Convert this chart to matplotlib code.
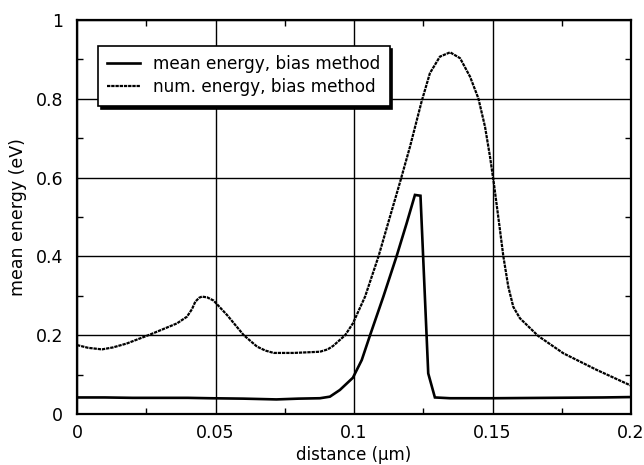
import matplotlib
matplotlib.use("Agg")
import matplotlib.pyplot as plt
from matplotlib.ticker import MultipleLocator, FuncFormatter

# ---- data ----
mean_x = [0.0, 0.01, 0.02, 0.03, 0.04, 0.048, 0.06, 0.072, 0.08, 0.0877, 0.0913,
          0.0949, 0.0996, 0.1028, 0.1058, 0.1106, 0.1154, 0.119, 0.122, 0.124,
          0.1268, 0.1292, 0.1347, 0.15, 0.17, 0.19, 0.2]
mean_y = [0.042, 0.042, 0.041, 0.041, 0.041, 0.040, 0.039, 0.037, 0.039, 0.040, 0.044,
          0.061, 0.092, 0.137, 0.200, 0.298, 0.401, 0.484, 0.556, 0.554,
          0.103, 0.042, 0.040, 0.040, 0.041, 0.042, 0.043]

num_x = [0.0, 0.004, 0.009, 0.013, 0.018, 0.0265, 0.0361, 0.0397, 0.0415, 0.0427,
         0.0441, 0.0451, 0.047, 0.0493, 0.0542, 0.0602, 0.065, 0.068, 0.071, 0.0782,
         0.0877, 0.0905, 0.0925, 0.0968, 0.0996, 0.104, 0.1088, 0.113, 0.1166,
         0.1202, 0.1244, 0.1274, 0.131, 0.1347, 0.1383, 0.1419, 0.1449, 0.1473,
         0.1491, 0.1505, 0.1527, 0.1539, 0.1557, 0.1575, 0.1599, 0.1665, 0.1756,
         0.1876, 0.2]
num_y = [0.175, 0.168, 0.164, 0.169, 0.179, 0.202, 0.230, 0.247, 0.266, 0.285,
         0.295, 0.298, 0.296, 0.288, 0.251, 0.200, 0.171, 0.161, 0.155, 0.155,
         0.158, 0.164, 0.173, 0.200, 0.230, 0.298, 0.399, 0.501, 0.588,
         0.678, 0.793, 0.865, 0.907, 0.918, 0.903, 0.856, 0.801, 0.729,
         0.653, 0.585, 0.467, 0.401, 0.323, 0.272, 0.243, 0.198, 0.154,
         0.112, 0.072]

labels = ["mean energy, bias method", "num. energy, bias method"]
x_ticks = [0, 0.05, 0.1, 0.15, 0.2]
y_ticks = [0, 0.2, 0.4, 0.6, 0.8, 1.0]

plt.rcParams['font.family'] = ['DejaVu Sans']
plt.rcParams['font.size'] = 12

fig = plt.figure(figsize=(6.44, 4.65), dpi=100)
ax = fig.add_axes([77/644, 51/465, 554/644, 394/465])

ax.plot(mean_x, mean_y, color='black', lw=1.9, solid_joinstyle='miter', label=labels[0])
ax.plot(num_x, num_y, color='black', lw=1.6, linestyle=(0, (1.5, 0.4)), label=labels[1])

ax.set_xlim(0, 0.2)
ax.set_ylim(0, 1)
ax.set_xticks(x_ticks)
ax.set_yticks(y_ticks)
fmt = FuncFormatter(lambda v, p: "%g" % round(v, 4))
ax.xaxis.set_major_formatter(fmt)
ax.yaxis.set_major_formatter(fmt)
ax.xaxis.set_minor_locator(MultipleLocator(0.025))
ax.yaxis.set_minor_locator(MultipleLocator(0.1))
ax.tick_params(which='major', length=0, labelsize=12.5)
ax.tick_params(axis='x', which='major', pad=7)
ax.tick_params(axis='y', which='major', pad=10)
ax.tick_params(which='minor', direction='in', length=4, width=1,
               top=True, right=True)
ax.grid(True, which='major', color='black', lw=1.0)
for s in ax.spines.values():
    s.set_linewidth(1.6)

ax.set_xlabel("distance (\u00b5m)", fontsize=12, labelpad=3)
ax.set_ylabel("mean energy (eV)", fontsize=12.5, labelpad=6)

leg = ax.legend(loc='upper left', bbox_to_anchor=(0.038, 0.934), borderaxespad=0,
                fancybox=False, framealpha=1, edgecolor='black',
                handlelength=1.9, handletextpad=0.8, borderpad=0.55,
                labelspacing=0.3, fontsize=12.2,
                shadow={'color': 'black', 'alpha': 1, 'ox': 2, 'oy': -2})
leg.get_frame().set_linewidth(1.2)

fig.savefig("out.png", dpi=100)
